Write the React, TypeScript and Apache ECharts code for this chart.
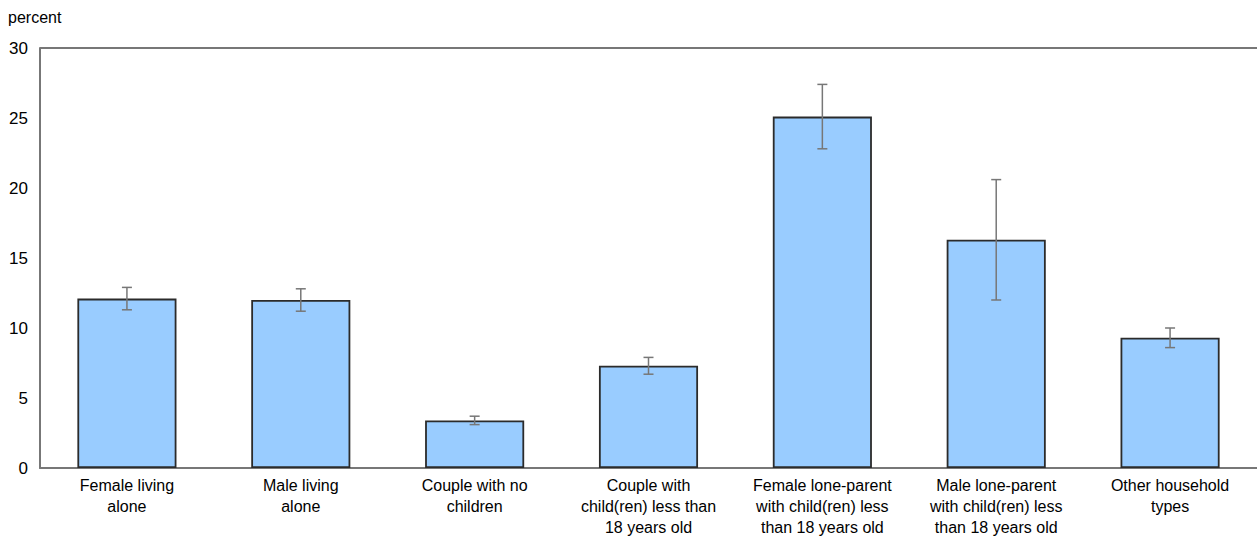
import React, { useEffect, useRef } from "react";
import * as echarts from "echarts";

const categories = [
  "Female living\nalone",
  "Male living\nalone",
  "Couple with no\nchildren",
  "Couple with\nchild(ren) less than\n18 years old",
  "Female lone-parent\nwith child(ren) less\nthan 18 years old",
  "Male lone-parent\nwith child(ren) less\nthan 18 years old",
  "Other household\ntypes",
];
const values = [12.1, 12.0, 3.4, 7.3, 25.1, 16.3, 9.3];
const errLow = [11.3, 11.2, 3.1, 6.7, 22.8, 12.0, 8.6];
const errHigh = [12.9, 12.8, 3.7, 7.9, 27.4, 20.6, 10.0];
const yTicks = [0, 5, 10, 15, 20, 25, 30];

const FONT = "'Liberation Sans Narrow', 'Arial Narrow', 'Liberation Sans', Arial, sans-serif";

export default function App() {
  const ref = useRef<HTMLDivElement>(null);
  useEffect(() => {
    const chart = echarts.init(ref.current!, null, { renderer: "svg" });
    const errData = categories.map((_, i) => [i, errLow[i], errHigh[i]]);
    chart.setOption({
      animation: false,
      backgroundColor: "#ffffff",
      textStyle: { fontFamily: FONT },
      grid: { left: 40, right: -1, top: 48, bottom: 70, containLabel: false },
      graphic: [
        {
          type: "text",
          left: 8,
          top: 9,
          style: { text: "percent", fontFamily: FONT, fontSize: 16, fill: "#000" },
        },
      ],
      xAxis: {
        type: "category",
        data: categories,
        axisLine: { show: true, lineStyle: { color: "#777", width: 2 } },
        axisTick: { show: false },
        axisLabel: {
          interval: 0,
          color: "#000",
          fontFamily: FONT,
          fontSize: 16,
          lineHeight: 21,
          margin: 7,
        },
      },
      yAxis: {
        type: "value",
        min: 0,
        max: 30,
        interval: 5,
        axisLine: { show: true, lineStyle: { color: "#777", width: 2 } },
        axisTick: { show: false },
        splitLine: { show: false },
        axisLabel: {
          color: "#000",
          fontFamily: FONT,
          fontSize: 17,
          margin: 12,
          formatter: (v: number) => (yTicks.includes(v) ? String(v) : ""),
        },
      },
      series: [
        {
          type: "bar",
          data: values,
          barWidth: "57%",
          itemStyle: { color: "#99CCFF", borderColor: "#2b2b2b", borderWidth: 1.8 },
        },
        {
          type: "custom",
          data: errData,
          z: 10,
          renderItem: (params: any, api: any) => {
            const x = api.value(0);
            const lo = api.coord([x, api.value(1)]);
            const hi = api.coord([x, api.value(2)]);
            const hw = 5;
            const style = { stroke: "#777", lineWidth: 1.5 };
            return {
              type: "group",
              children: [
                { type: "line", shape: { x1: lo[0], y1: lo[1], x2: hi[0], y2: hi[1] }, style },
                { type: "line", shape: { x1: hi[0] - hw, y1: hi[1], x2: hi[0] + hw, y2: hi[1] }, style },
                { type: "line", shape: { x1: lo[0] - hw, y1: lo[1], x2: lo[0] + hw, y2: lo[1] }, style },
              ],
            };
          },
        },
        {
          type: "line",
          data: [],
          markLine: {
            silent: true,
            symbol: "none",
            label: { show: false },
            lineStyle: { color: "#777", width: 2, type: "solid" },
            data: [{ yAxis: 30 }],
          },
        },
      ],
    });
    return () => chart.dispose();
  }, []);
  return (
    <div
      ref={ref}
      style={{ position: "fixed", left: 0, top: 0, width: 1257, height: 538, background: "#fff" }}
    />
  );
}
